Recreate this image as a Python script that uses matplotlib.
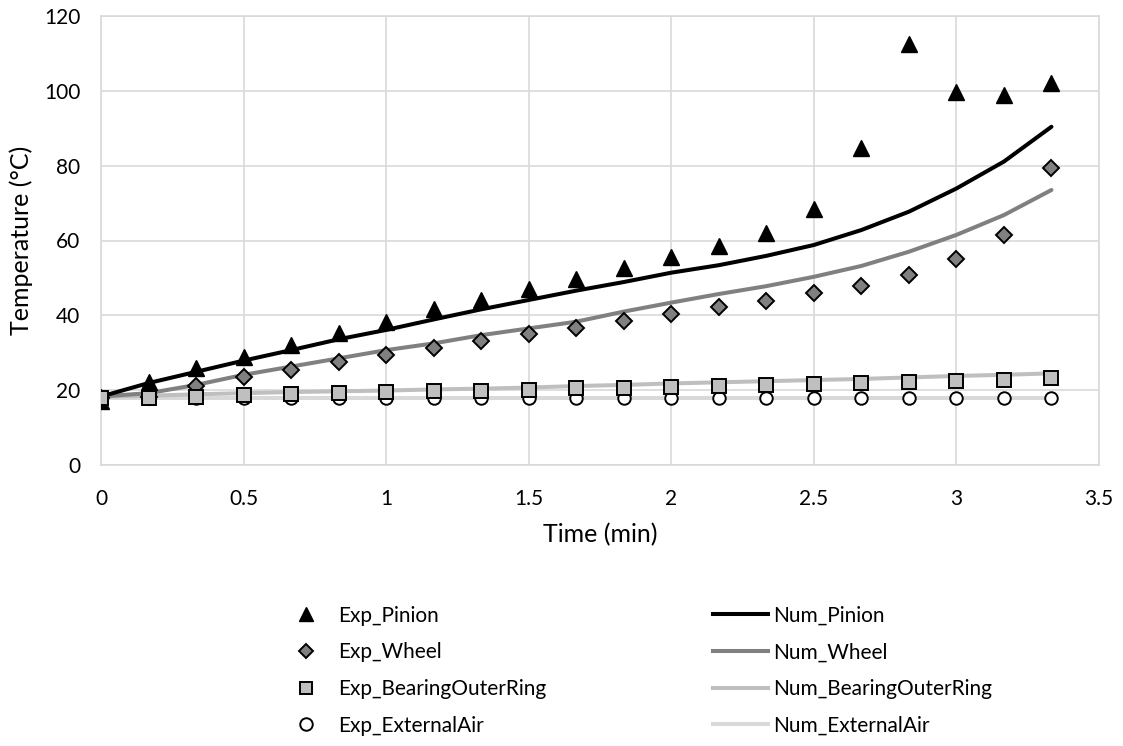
import matplotlib
matplotlib.use("Agg")
import matplotlib.pyplot as plt
from matplotlib.lines import Line2D

plt.rcParams['font.family'] = ['Lato', 'DejaVu Sans']

# Sample times in seconds (every 10 s)
time_s = [0, 10, 20, 30, 40, 50, 60, 70, 80, 90, 100,
          110, 120, 130, 140, 150, 160, 170, 180, 190, 200]
time_min = [t / 60 for t in time_s]

exp_pinion = [17.0, 22.3, 25.8, 28.9, 32.1, 35.4, 38.3, 41.6, 44.1, 47.0, 49.7,
              52.6, 55.6, 58.5, 62.0, 68.4, 84.7, 112.5, 99.7, 98.9, 102.0]
exp_wheel = [18.0, 18.3, 21.2, 23.4, 25.4, 27.6, 29.4, 31.4, 33.1, 35.0, 36.7,
             38.6, 40.4, 42.3, 43.9, 45.9, 47.8, 50.8, 55.0, 61.4, 79.5]
exp_bearing = [18.0, 18.0, 18.2, 18.7, 19.0, 19.3, 19.5, 19.7, 19.9, 20.1, 20.5,
               20.6, 20.9, 21.1, 21.4, 21.6, 21.8, 22.1, 22.5, 22.7, 23.2]
exp_air = [18.0, 18.0, 18.0, 18.0, 18.0, 18.0, 18.0, 18.0, 18.0, 18.0, 18.0,
           18.0, 18.0, 18.0, 18.0, 18.0, 18.0, 18.0, 18.0, 18.0, 18.0]

num_pinion = [18.3, 21.9, 24.9, 27.9, 30.7, 33.6, 36.1, 38.9, 41.6, 44.1, 46.6,
              48.9, 51.4, 53.4, 55.9, 58.8, 62.8, 67.7, 73.9, 81.1, 90.4]
num_wheel = [18.3, 19.2, 21.4, 24.1, 26.3, 28.5, 30.7, 32.5, 34.7, 36.5, 38.3,
             41.0, 43.4, 45.7, 47.8, 50.3, 53.2, 57.0, 61.5, 66.8, 73.5]
num_bearing = [18.3, 18.5, 18.9, 19.2, 19.5, 19.7, 19.9, 20.2, 20.4, 20.7, 21.1,
               21.4, 21.8, 22.1, 22.4, 22.7, 23.0, 23.4, 23.8, 24.1, 24.5]
num_air = [18.0, 18.0, 18.0, 18.0, 18.0, 18.0, 18.0, 18.0, 18.0, 18.0, 18.0,
           18.0, 18.0, 18.0, 18.0, 18.0, 18.0, 18.0, 18.0, 18.0, 18.0]

x_ticks = [0, 0.5, 1, 1.5, 2, 2.5, 3, 3.5]
x_tick_labels = ['0', '0.5', '1', '1.5', '2', '2.5', '3', '3.5']
y_ticks = [0, 20, 40, 60, 80, 100, 120]

W, H = 1123, 746
fig = plt.figure(figsize=(W / 100, H / 100), dpi=100)
ax = fig.add_axes([101 / W, 1 - 465 / H, 998 / W, 449 / H])

grid_c = '#d9d9d9'
line_w = 2.9
tick_fs = 15
label_fs = 18
leg_fs = 15

# Simulated curves
ax.plot(time_min, num_air, color='#d9d9d9', lw=line_w, zorder=2, solid_capstyle='round')
ax.plot(time_min, num_bearing, color='#bfbfbf', lw=line_w, zorder=2, solid_capstyle='round')
ax.plot(time_min, num_wheel, color='#808080', lw=line_w, zorder=2, solid_capstyle='round')
ax.plot(time_min, num_pinion, color='black', lw=line_w, zorder=2, solid_capstyle='round')

# Measured points
ax.plot(time_min, exp_pinion, ls='none', marker='^', ms=11, mfc='black',
        mec='black', zorder=3)
ax.plot(time_min, exp_wheel, ls='none', marker='D', ms=8.5, mfc='#808080',
        mec='black', mew=1.4, zorder=3)
ax.plot(time_min, exp_air, ls='none', marker='o', ms=9, mfc='white',
        mec='black', mew=1.4, zorder=3)
ax.plot(time_min, exp_bearing, ls='none', marker='s', ms=9.5, mfc='#bfbfbf',
        mec='black', mew=1.4, zorder=3)

ax.set_xlim(0, 3.5)
ax.set_ylim(0, 120)
ax.set_xticks(x_ticks)
ax.set_xticklabels(x_tick_labels)
ax.set_yticks(y_ticks)
ax.grid(True, color=grid_c, lw=1.2, zorder=0)
ax.set_axisbelow(True)
for s in ax.spines.values():
    s.set_color(grid_c)
    s.set_linewidth(1.2)
ax.tick_params(length=0, labelsize=tick_fs, colors='black')
ax.tick_params(axis='x', pad=17)
ax.tick_params(axis='y', pad=15)

ax.set_xlabel('Time (min)', fontsize=label_fs, labelpad=10)
ax.set_ylabel('Temperature (°C)', fontsize=label_fs, labelpad=8)

# Legends: measured points (left) and simulated curves (right)
exp_handles = [
    Line2D([], [], ls='none', marker='^', ms=10, mfc='black', mec='black'),
    Line2D([], [], ls='none', marker='D', ms=7.5, mfc='#808080', mec='black', mew=1.4),
    Line2D([], [], ls='none', marker='s', ms=9, mfc='#bfbfbf', mec='black', mew=1.4),
    Line2D([], [], ls='none', marker='o', ms=9, mfc='white', mec='black', mew=1.4),
]
exp_labels = ['Exp_Pinion', 'Exp_Wheel', 'Exp_BearingOuterRing', 'Exp_ExternalAir']
num_handles = [
    Line2D([], [], color='black', lw=line_w),
    Line2D([], [], color='#808080', lw=line_w),
    Line2D([], [], color='#bfbfbf', lw=line_w),
    Line2D([], [], color='#d9d9d9', lw=line_w),
]
num_labels = ['Num_Pinion', 'Num_Wheel', 'Num_BearingOuterRing', 'Num_ExternalAir']

leg1 = fig.legend(exp_handles, exp_labels, loc='upper left',
                  bbox_to_anchor=(277 / W, 1 - 587 / H), frameon=False,
                  fontsize=leg_fs, labelspacing=0.8, handlelength=1.0,
                  handletextpad=1.05)
leg2 = fig.legend(num_handles, num_labels, loc='upper left',
                  bbox_to_anchor=(694 / W, 1 - 587 / H), frameon=False,
                  fontsize=leg_fs, labelspacing=0.8, handlelength=2.65,
                  handletextpad=0.25)

fig.savefig('out.png', dpi=100)
